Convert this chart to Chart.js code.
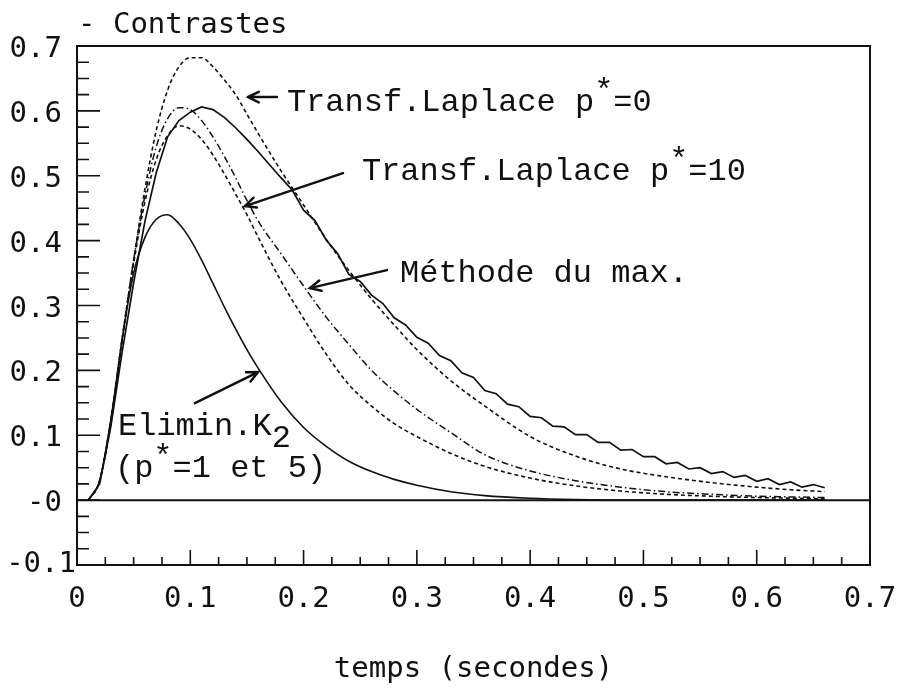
<!DOCTYPE html>
<html>
<head>
<meta charset="utf-8">
<script src="https://cdn.jsdelivr.net/npm/chart.js@4/dist/chart.umd.min.js"></script>
<style>
  body { margin: 0; background: #fff; }
  canvas { display: block; }
</style>
</head>
<body>
<canvas id="chart1" width="899" height="691"></canvas>
<script>
// times (s) for the fitted curves
let timesFit = [0.01, 0.02, 0.03, 0.04, 0.05, 0.06, 0.07, 0.08, 0.09, 0.10, 0.11, 0.12, 0.13, 0.14, 0.15, 0.16,
  0.18, 0.20, 0.22, 0.24, 0.26, 0.28, 0.30, 0.33, 0.36, 0.40, 0.44, 0.48, 0.52, 0.56, 0.60, 0.63, 0.66];

// Transf.Laplace p*=0 (dashed, top)
let laplace0 = [0, 0.03, 0.12, 0.25, 0.37, 0.48, 0.57, 0.632, 0.668, 0.682, 0.682, 0.668, 0.648, 0.625, 0.595, 0.565,
  0.508, 0.455, 0.402, 0.354, 0.31, 0.27, 0.232, 0.184, 0.145, 0.098, 0.068, 0.048, 0.036, 0.027, 0.02, 0.016, 0.013];

// Methode du max. (dash-dot)
let methMax = [0, 0.03, 0.125, 0.25, 0.37, 0.47, 0.545, 0.588, 0.605, 0.602, 0.585, 0.56, 0.53, 0.497, 0.462, 0.43,
  0.38, 0.33, 0.282, 0.24, 0.2, 0.168, 0.14, 0.104, 0.07, 0.045, 0.03, 0.02, 0.013, 0.009, 0.006, 0.005, 0.004];

// Transf.Laplace p*=10 (dashed, lower)
let laplace10 = [0, 0.03, 0.125, 0.25, 0.365, 0.46, 0.525, 0.562, 0.577, 0.572, 0.556, 0.532, 0.503, 0.472, 0.44, 0.405,
  0.338, 0.28, 0.225, 0.178, 0.145, 0.118, 0.098, 0.072, 0.052, 0.034, 0.022, 0.014, 0.009, 0.006, 0.004, 0.003, 0.002];

// Elimin.K2 (solid, low)
let eliminK2 = [0, 0.03, 0.125, 0.25, 0.35, 0.405, 0.433, 0.44, 0.426, 0.402, 0.37, 0.334, 0.298, 0.264, 0.232, 0.203,
  0.152, 0.112, 0.083, 0.06, 0.044, 0.032, 0.023, 0.013, 0.007, 0.003, 0.001, 0, 0, 0, 0, 0, 0];

// measured curve (solid, noisy)
let timesMeas = [0.01, 0.02, 0.03, 0.04, 0.05, 0.06, 0.07, 0.08, 0.09, 0.10, 0.11, 0.12, 0.13, 0.14, 0.15, 0.16, 0.17,
  0.18, 0.19, 0.20, 0.21, 0.22, 0.23, 0.24, 0.25, 0.26, 0.27, 0.28, 0.29, 0.30, 0.31, 0.32, 0.33, 0.34, 0.35, 0.36,
  0.37, 0.38, 0.39, 0.40, 0.41, 0.42, 0.43, 0.44, 0.45, 0.46, 0.47, 0.48, 0.49, 0.50, 0.51, 0.52, 0.53, 0.54, 0.55,
  0.56, 0.57, 0.58, 0.59, 0.60, 0.61, 0.62, 0.63, 0.64, 0.65, 0.66];
let measured = [0, 0.025, 0.115, 0.23, 0.335, 0.43, 0.505, 0.56, 0.585, 0.598, 0.606, 0.602, 0.59, 0.574, 0.556, 0.537, 0.517,
  0.497, 0.478, 0.447, 0.431, 0.401, 0.38, 0.348, 0.337, 0.316, 0.303, 0.281, 0.27, 0.251, 0.242, 0.223, 0.215, 0.196, 0.189, 0.169,
  0.164, 0.148, 0.144, 0.129, 0.127, 0.114, 0.113, 0.101, 0.101, 0.089, 0.089, 0.077, 0.078, 0.067, 0.067, 0.056, 0.058, 0.048, 0.05,
  0.041, 0.044, 0.035, 0.038, 0.029, 0.033, 0.024, 0.028, 0.02, 0.024, 0.019];

let xTicks = [0, 0.1, 0.2, 0.3, 0.4, 0.5, 0.6, 0.7];
let xLabels = ['0', '0.1', '0.2', '0.3', '0.4', '0.5', '0.6', '0.7'];
let yTicks = [-0.1, 0, 0.1, 0.2, 0.3, 0.4, 0.5, 0.6, 0.7];
let yLabels = ['-0.1', '-0', '0.1', '0.2', '0.3', '0.4', '0.5', '0.6', '0.7'];

function pts(xs, ys) {
  return xs.map((t, i) => ({ x: t, y: ys[i] }));
}

let plotFont = "29px 'DejaVu Sans Mono', monospace";
let noteFont = "32px 'Liberation Mono', monospace";

// annotations, placed in data units
let notes = [
  { x: 0.1853, y: 0.5996, parts: [['Transf.Laplace p', 0], ['*', -11], ['=0', 0]] },
  { x: 0.2515, y: 0.4933, parts: [['Transf.Laplace p', 0], ['*', -11], ['=10', 0]] },
  { x: 0.2851, y: 0.3360, parts: [['Méthode du max.', 0]] },
  { x: 0.0362, y: 0.1002, parts: [['Elimin.K', 0], ['2', 12]] },
  { x: 0.0335, y: 0.0355, parts: [['(p', 0], ['*', -11], ['=1 et 5)', 0]] }
];
let arrows = [
  [0.1765, 0.6212, 0.1509, 0.6212],
  [0.2348, 0.5040, 0.1483, 0.4532],
  [0.2736, 0.3545, 0.2056, 0.3268],
  [0.1041, 0.1495, 0.1598, 0.1973]
];

let frame = {
  id: 'frame',
  afterDatasetsDraw(chart) {
    let { ctx, chartArea: a, scales: { x, y } } = chart;
    ctx.save();
    ctx.strokeStyle = '#111';
    ctx.lineWidth = 2;
    ctx.strokeRect(a.left, a.top, a.right - a.left, a.bottom - a.top);
    // zero line
    let y0 = y.getPixelForValue(0);
    ctx.beginPath();
    ctx.moveTo(a.left, y0);
    ctx.lineTo(a.right, y0);
    ctx.stroke();
    // inward ticks, 4 per division
    ctx.lineWidth = 1.6;
    ctx.beginPath();
    for (let i = 0; i <= 32; i++) {
      let py = y.getPixelForValue(-0.1 + i * 0.025);
      let len = i % 4 === 0 ? 23 : 12;
      ctx.moveTo(a.left, py);
      ctx.lineTo(a.left + len, py);
    }
    for (let i = 0; i <= 28; i++) {
      let px = x.getPixelForValue(i * 0.025);
      let len = i % 4 === 0 ? 15 : 8;
      ctx.moveTo(px, a.bottom);
      ctx.lineTo(px, a.bottom - len);
    }
    ctx.stroke();

    // tick labels and titles
    ctx.fillStyle = '#111';
    ctx.font = plotFont;
    ctx.textBaseline = 'alphabetic';
    ctx.textAlign = 'right';
    yTicks.forEach((v, i) => {
      let py = y.getPixelForValue(v);
      if (v < 0) ctx.fillText(yLabels[i], a.left - 1, py + 7);
      else ctx.fillText(yLabels[i], a.left - 15, py + 11);
    });
    ctx.textAlign = 'center';
    xTicks.forEach((v, i) => {
      ctx.fillText(xLabels[i], x.getPixelForValue(v), a.bottom + 42);
    });
    ctx.fillText('temps (secondes)', (a.left + a.right) / 2, 677);
    ctx.textAlign = 'left';
    ctx.fillText('- Contrastes', 78, 33);

    // notes
    ctx.font = noteFont;
    notes.forEach(n => {
      let px = x.getPixelForValue(n.x);
      let py = y.getPixelForValue(n.y);
      n.parts.forEach(([txt, dy]) => {
        ctx.fillText(txt, px, py + dy);
        px += ctx.measureText(txt).width;
      });
    });

    // arrows
    ctx.lineWidth = 2.5;
    ctx.lineCap = 'round';
    arrows.forEach(([x1, y1, x2, y2]) => {
      let ax = x.getPixelForValue(x1), ay = y.getPixelForValue(y1);
      let bx = x.getPixelForValue(x2), by = y.getPixelForValue(y2);
      let ang = Math.atan2(by - ay, bx - ax);
      ctx.beginPath();
      ctx.moveTo(ax, ay);
      ctx.lineTo(bx, by);
      ctx.moveTo(bx - 12 * Math.cos(ang - 0.45), by - 12 * Math.sin(ang - 0.45));
      ctx.lineTo(bx, by);
      ctx.lineTo(bx - 12 * Math.cos(ang + 0.45), by - 12 * Math.sin(ang + 0.45));
      ctx.stroke();
    });
    ctx.restore();
  }
};

let line = (data, dash, width) => ({
  data: data,
  borderColor: '#111',
  borderWidth: width,
  borderDash: dash,
  pointRadius: 0,
  fill: false,
  tension: 0.3,
  cubicInterpolationMode: 'monotone'
});

let options = {
  type: 'line',
  data: {
    datasets: [
      line(pts(timesFit, laplace0), [4, 3], 1.6),
      line(pts(timesFit, methMax), [7, 3, 1.5, 3], 1.5),
      line(pts(timesFit, laplace10), [4, 3], 1.6),
      line(pts(timesFit, eliminK2), [], 1.6),
      Object.assign(line(pts(timesMeas, measured), [], 1.7), { tension: 0, cubicInterpolationMode: 'default' })
    ]
  },
  options: {
    responsive: false,
    animation: false,
    layout: { padding: { top: 46, right: 29, left: 0, bottom: 0 } },
    plugins: { legend: { display: false }, tooltip: { enabled: false } },
    scales: {
      x: {
        type: 'linear',
        min: 0,
        max: 0.7,
        border: { display: false },
        grid: { display: false },
        ticks: { display: false },
        afterFit: s => { s.height = 126; }
      },
      y: {
        min: -0.1,
        max: 0.7,
        border: { display: false },
        grid: { display: false },
        ticks: { display: false },
        afterFit: s => { s.width = 77; }
      }
    }
  },
  plugins: [frame]
};

let chart = new Chart(document.getElementById('chart1'), options);
</script>
</body>
</html>
